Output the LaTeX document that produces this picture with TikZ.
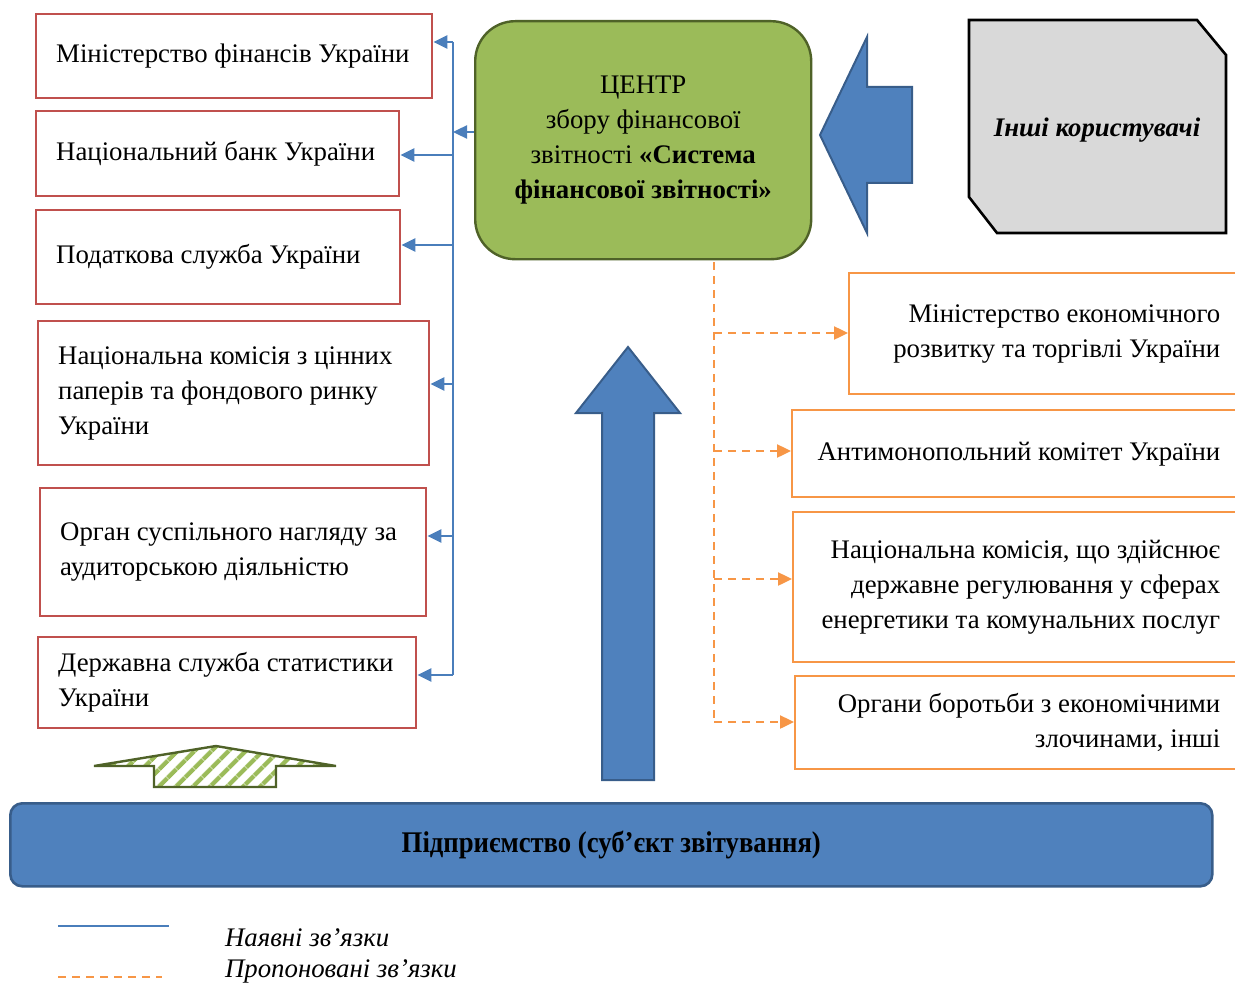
\documentclass[tikz,border=0pt]{standalone}
\usepackage{fontspec}
\setmainfont{Liberation Serif}
\usepackage{graphicx}
\usepackage{tikz}
\usetikzlibrary{arrows.meta,patterns.meta}
\definecolor{orgred}{RGB}{192,80,77}
\definecolor{orgorange}{RGB}{247,150,70}
\definecolor{linkblue}{RGB}{74,126,187}
\definecolor{fillblue}{RGB}{79,129,189}
\definecolor{edgeblue}{RGB}{56,93,138}
\definecolor{centregreen}{RGB}{155,187,89}
\definecolor{edgegreen}{RGB}{79,98,40}
\definecolor{usergray}{RGB}{217,217,217}

\begin{document}
\begin{tikzpicture}[x=0.5pt,y=-0.5pt,
    every node/.style={font=\fontsize{13.4}{17.5}\selectfont},
    regbox/.style={draw=orgred,line width=1.2pt,anchor=north west,inner xsep=10pt,align=flush left},
    newbox/.style={draw=orgorange,line width=1.2pt,anchor=north west,inner xsep=10pt,align=flush right},
    hasline/.style={linkblue,line width=1.2pt},
    newline/.style={orgorange,line width=1.2pt,dash pattern=on 4pt off 3pt},
    hasarrow/.style={hasline,-{Triangle[length=7pt,width=6.5pt]}},
    newarrow/.style={newline,-{Triangle[length=7pt,width=6.5pt]}},
    blockarrow/.style={draw=edgeblue,fill=fillblue,line width=1pt}]
  \useasboundingbox (0,0) rectangle (1235,984);

  \node[regbox,text width=178pt,minimum height=42pt] (minfin) at (35,13) {Міністерство фінансів України};
  \node[regbox,text width=161.5pt,minimum height=42.5pt] (nbu) at (35,110) {Національний банк України};
  \node[regbox,text width=162pt,minimum height=47pt] (dps) at (35,209) {Податкова служба України};
  \node[regbox,text width=175.5pt,minimum height=72pt] (nkcpfr) at (37,320) {Національна комісія з цінних\\паперів та фондового ринку\\України};
  \node[regbox,text width=173pt,minimum height=64pt] (organ) at (39,487) {Орган суспільного нагляду за\\аудиторською діяльністю};
  \node[regbox,text width=169pt,minimum height=45.5pt] (dss) at (37,636) {Державна служба статистики\\України};

  \node[draw=edgegreen,line width=1.2pt,fill=centregreen,rounded corners=20pt,anchor=north west,
        minimum width=168pt,minimum height=119pt,align=center] (centre) at (474,20)
        {ЦЕНТР\\збору фінансової\\звітності \textbf{«Система}\\\textbf{фінансової звітності»}};

  \draw[blockarrow] (912,87) -- (867,87) -- (867,37) -- (820,135) -- (867,233) -- (867,183) -- (912,183) -- cycle;
  \draw[line width=1.3pt,fill=usergray] (969,20) -- (1197,20) -- (1226,55) -- (1226,233) -- (997,233) -- (969,197) -- cycle;
  \node[font=\fontsize{13.4}{17}\selectfont\bfseries\itshape] (users) at (1097,130) {Інші користувачі};

  \node[newbox,text width=175.5pt,minimum height=60.5pt] (mert) at (848,272) {Міністерство економічного\\розвитку та торгівлі України};
  \node[newbox,text width=204pt,minimum height=43.5pt] (amku) at (791,409) {Антимонопольний комітет України};
  \node[newbox,text width=203.5pt,minimum height=75pt] (nkrekp) at (792,511) {Національна комісія, що здійснює\\державне регулювання у сферах\\енергетики та комунальних послуг};
  \node[newbox,text width=202.5pt,minimum height=46.5pt] (organy) at (794,675) {Органи боротьби з економічними\\злочинами, інші};

  \coordinate (bustop) at (453,42);
  \coordinate (busbot) at (453,675);
  \draw[hasline] (bustop) -- (busbot);
  \draw[hasarrow] (centre.west |- 0,132) -- (bustop |- 0,132);
  \foreach \b/\y in {minfin/42,nbu/155,dps/245,nkcpfr/384,organ/536,dss/675}
    \draw[hasarrow] (453,\y) -- (\b.east |- 0,\y);

  \coordinate (newtop) at (714,262);
  \coordinate (newbot) at (714,722);
  \draw[newline] (newtop) -- (newbot);
  \foreach \b/\y in {mert/333,amku/451,nkrekp/579,organy/722}
    \draw[newarrow] (714,\y) -- (\b.west |- 0,\y);

  \draw[blockarrow] (602,780) -- (602,413) -- (576,413) -- (628,347) -- (680,413) -- (654,413) -- (654,780) -- cycle;
  \draw[edgegreen,line width=1.2pt,pattern={Lines[angle=45,distance=6.5pt,line width=2.5pt]},pattern color=centregreen]
    (94,766) -- (216,746) -- (336,766) -- (276,766) -- (276,787) -- (154,787) -- (154,766) -- cycle;

  \node[draw=edgeblue,line width=1.3pt,fill=fillblue,rounded corners=6pt,anchor=north west,
        minimum width=601pt,minimum height=41.5pt] (firm) at (9,802)
        {\fontsize{15}{18}\selectfont\bfseries\scalebox{0.89}[1]{Підприємство (суб’єкт звітування)}};

  \draw[hasline] (58,926) -- (169,926);
  \draw[newline] (58,977) -- (162,977);
  \node[anchor=west,font=\fontsize{13.4}{17}\selectfont\itshape] (legold) at (218,938) {Наявні зв’язки};
  \node[anchor=west,font=\fontsize{13.4}{17}\selectfont\itshape] (legnew) at (218,971) {Пропоновані зв’язки};
\end{tikzpicture}
\end{document}
